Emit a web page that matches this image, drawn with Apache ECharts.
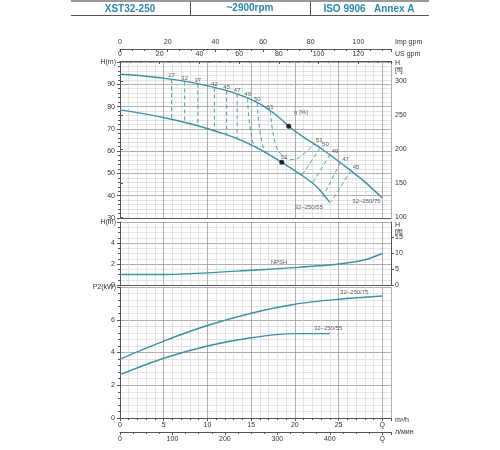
<!DOCTYPE html>
<html><head><meta charset="utf-8">
<script src="https://cdn.jsdelivr.net/npm/echarts@6/dist/echarts.min.js"></script>
<style>html,body{margin:0;padding:0;background:#fff}#c{width:500px;height:450px}</style>
</head><body><div id="c"></div>
<script>
// ---- data (Q in m3/h) ----
const headTitle = ['XST32-250', '~2900rpm', 'ISO 9906   Annex A'];
const curve75 = [[0,94.5],[3,93.6],[6,92.2],[9,90.2],[12,87.4],[14,84.8],[16,81.2],[18,75.8],[19.3,71.2],[21,66.3],[23,61.2],[26,52.5],[28,46.2],[30,39]];
const curve55 = [[0,78.5],[3,76.6],[6,74.2],[9,71.3],[12,67.6],[14,64.6],[16,60.8],[18.5,55],[21,48.6],[22.5,44],[24,37]];
const effVertical = [[27,5.9],[32,7.4],[37,8.9],[42,10.8],[45,12.2],[47,13.4]];
const effCurved = [
  [49, [[14.6,'u'],[15.2,64],[16.0,'l']]],
  [50, [[15.7,'u'],[16.3,63],[17.1,'l']]],
  [51, [[17.2,'u'],[17.8,63],[18.6,58],[19.6,56.2],[20.6,57.5],[22.2,'u']]],
  [50, [[22.9,'u'],[20.8,'l']]],
  [49, [[24.0,'u'],[22.0,'l']]],
  [47, [[25.2,'u'],[23.2,39.5]]],
  [45, [[26.4,'u'],[24.2,37.5]]]
];
const bestPts = [[19.3,71.2],[18.5,55]];
const npsh = [[0,1.0],[5,1.0],[10,1.15],[15,1.4],[20,1.65],[25,2.0],[28,2.4],[30,3.0]];
const p75 = [[0,3.6],[5,4.7],[10,5.65],[15,6.4],[20,6.95],[25,7.25],[30,7.45]];
const p55 = [[0,2.65],[5,3.65],[10,4.4],[15,4.9],[20,5.15],[24,5.15]];

const C = '#3a93a3', TXT = '#333', MAJ = '#9a9a9a', MIN = '#d2d2d2';
function interp(arr, q){
  if(q<=arr[0][0]) return arr[0][1];
  for(let i=1;i<arr.length;i++){ if(q<=arr[i][0]){const a=arr[i-1],b=arr[i];return a[1]+(b[1]-a[1])*(q-a[0])/(b[0]-a[0]);} }
  const a=arr[arr.length-2],b=arr[arr.length-1];return b[1]+(b[1]-a[1])*(q-b[0])/(b[0]-a[0]);
}
const QMAX = 31;
const grids = [
  {left:120,right:109,top:62,height:156},
  {left:120,right:109,top:222,height:63},
  {left:120,right:109,top:287,height:131}
];
const sl = {show:true,lineStyle:{color:MAJ,width:0.8}};
const msl = {show:true,lineStyle:{color:MIN,width:0.6}};
const lab = {color:TXT,fontSize:7,fontFamily:'Arial'};
function xq(gi, showLab){
  return {gridIndex:gi,type:'value',min:0,max:QMAX,interval:5,
    axisLine:{show:true,lineStyle:{color:'#555'}},axisTick:{show:showLab,length:3,lineStyle:{color:'#555'}},
    minorTick:{show:showLab,splitNumber:5,length:2},
    axisLabel:{show:showLab,...lab,formatter:v=>v===30?'Q':v,margin:4,showMaxLabel:false},
    splitLine:sl,minorSplitLine:msl};
}
const xAxis = [xq(0,false),xq(1,false),xq(2,true),
  {gridIndex:2,type:'value',min:0,max:QMAX*16.6667,interval:100,position:'bottom',offset:14,
   axisLine:{show:true,lineStyle:{color:'#555'}},axisTick:{length:3},minorTick:{show:true,splitNumber:4,length:2},
   axisLabel:{...lab,formatter:v=>v===500?'Q':v,margin:4,showMaxLabel:false},splitLine:{show:false},
   name:'л/мин',nameGap:4,nameTextStyle:{...lab}},
  {gridIndex:0,type:'value',min:0,max:QMAX*4.403,interval:20,position:'top',offset:1,
   axisLine:{show:true,lineStyle:{color:'#555'}},axisTick:{length:3,inside:true},minorTick:{show:true,splitNumber:4,length:2},
   axisLabel:{...lab,margin:3,showMaxLabel:false},splitLine:{show:false},name:'US gpm',nameGap:4,nameTextStyle:{...lab,verticalAlign:'bottom',padding:[0,0,3,0]}},
  {gridIndex:0,type:'value',min:0,max:QMAX*3.666,interval:20,position:'top',offset:13,
   axisLine:{show:true,lineStyle:{color:'#555'}},axisTick:{length:3,inside:true},minorTick:{show:true,splitNumber:4,length:2},
   axisLabel:{...lab,margin:3,showMaxLabel:false},splitLine:{show:false},name:'Imp gpm',nameGap:4,nameTextStyle:{...lab,verticalAlign:'bottom',padding:[0,0,3,0]}}
];
function yl(gi,min,max,interval,minor,name,fmt){
  return {gridIndex:gi,type:'value',min,max,interval,
    axisLine:{show:true,lineStyle:{color:'#555'}},axisTick:{show:true,length:3},
    minorTick:{show:true,splitNumber:minor,length:2},
    axisLabel:{...lab,margin:5,formatter:fmt||(v=>v)},splitLine:sl,minorSplitLine:msl,
    name,nameLocation:'end',nameGap:-4,nameTextStyle:{...lab,align:'right',padding:[0,4,0,0]}};
}
function yr(gi,min,max,vals){
  return {gridIndex:gi,type:'value',min,max,position:'right',
    axisLine:{show:true,lineStyle:{color:'#555'}},axisTick:{show:true,length:3,customValues:vals},
    axisLabel:{...lab,margin:4,customValues:vals},splitLine:{show:false}};
}
const yAxis = [
  yl(0,30,100,10,5,'H(m)',v=>v===100?'':v),
  yl(1,0,6,2,4,'H(m)',v=>v===6?'':v),
  yl(2,0,8,2,5,'P2(kW)',v=>v===8?'':v),
  yr(0,30*3.2808,100*3.2808,[100,150,200,250,300]),
  yr(1,0,6*3.2808,[0,5,10,15])
];
const series = [];
function line(data,xi,yi,w){series.push({type:'line',xAxisIndex:xi,yAxisIndex:yi,data,smooth:0.3,symbol:'none',lineStyle:{color:C,width:w||1.4},z:5});}
line(curve75,0,0);line(curve55,0,0);line(npsh,1,1);line(p75,2,2);line(p55,2,2);
const effLabels=[];
effVertical.forEach(([e,q])=>{
  series.push({type:'line',xAxisIndex:0,yAxisIndex:0,symbol:'none',data:[[q,interp(curve75,q)],[q,interp(curve55,q)]],lineStyle:{color:C,width:0.9,type:[4,3]},z:4});
  effLabels.push({value:[q,interp(curve75,q)+1.6],label:{formatter:String(e)}});
});
effCurved.forEach(([e,pts])=>{
  const d=pts.map(([q,h])=>[q,h==='u'?interp(curve75,q):h==='l'?interp(curve55,q):h]);
  series.push({type:'line',xAxisIndex:0,yAxisIndex:0,symbol:'none',smooth:0.5,data:d,lineStyle:{color:C,width:0.9,type:[4,3]},z:4});
  effLabels.push({value:[d[0][0]+(d[0][0]>20?0.6:0),d[0][1]+1.6],label:{formatter:String(e)}});
  if(d[d.length-1][0]>20 && pts[pts.length-1][1]==='u') effLabels.push({value:[d[d.length-1][0]+0.6,d[d.length-1][1]+1.6],label:{formatter:String(e)}});
});
effLabels.push({value:[18.8,57.2],label:{formatter:'51'}});
series.push({type:'scatter',xAxisIndex:0,yAxisIndex:0,symbolSize:0,data:effLabels,
  label:{show:true,position:'inside',color:TXT,fontSize:6,fontFamily:'Arial'},z:6});
series.push({type:'scatter',xAxisIndex:0,yAxisIndex:0,symbolSize:5,data:bestPts,itemStyle:{color:'#000'},z:7});
function txt(xi,yi,q,v,t,align){series.push({type:'scatter',xAxisIndex:xi,yAxisIndex:yi,symbolSize:0,data:[[q,v]],
  label:{show:true,position:'inside',formatter:t,color:TXT,fontSize:6,fontFamily:'Arial',align:align||'center'},z:6});}
txt(0,0,20.7,77.5,'η [%]');
txt(0,0,21.6,35,'32–250/55');
txt(0,0,28.2,37.6,'32–250/75');
txt(1,1,18.2,2.15,'NPSH');
txt(2,2,26.8,7.7,'32–250/75');
txt(2,2,23.8,5.45,'32–250/55');
const chart = echarts.init(document.getElementById('c'),null,{renderer:'canvas'});
const ft = (y)=>({type:'text',x:395,y,style:{text:'H\n[ft]',fill:TXT,font:'7px Arial',lineHeight:7,align:'left',verticalAlign:'top'}});
chart.setOption({
  animation:false,
  grid:grids,xAxis,yAxis,series,
  graphic:[
    {type:'rect',shape:{x:71,y:0,width:358,height:2},style:{fill:'#999'}},
    {type:'line',shape:{x1:71,y1:15.5,x2:429,y2:15.5},style:{stroke:'#555',lineWidth:1}},
    {type:'line',shape:{x1:190.5,y1:2,x2:190.5,y2:15},style:{stroke:'#555',lineWidth:1}},
    {type:'line',shape:{x1:310.5,y1:2,x2:310.5,y2:15},style:{stroke:'#555',lineWidth:1}},
    {type:'text',x:130,y:9,style:{text:headTitle[0],fill:'#2a86ad',font:'bold 10px Arial',align:'center',verticalAlign:'middle'}},
    {type:'text',x:250,y:8,style:{text:headTitle[1],fill:'#2a86ad',font:'bold 10px Arial',align:'center',verticalAlign:'middle'}},
    {type:'text',x:369,y:9,style:{text:headTitle[2],fill:'#2a86ad',font:'bold 10px Arial',align:'center',verticalAlign:'middle'}},
    {type:'text',x:395,y:420,style:{text:'m³/h',fill:TXT,font:'7px Arial',verticalAlign:'middle'}},
    ft(60), ft(222)
  ]
});
</script></body></html>
